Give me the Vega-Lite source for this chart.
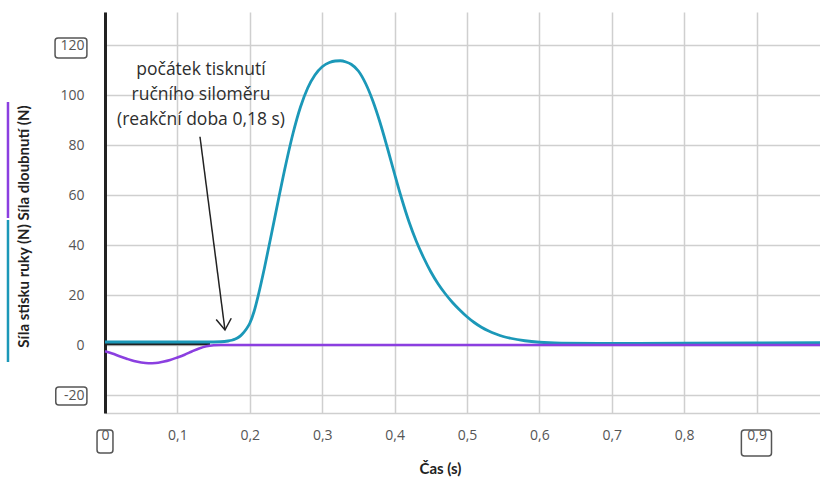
{
  "$schema": "https://vega.github.io/schema/vega-lite/v6.json",
  "width": 715,
  "height": 401,
  "autosize": {"type": "none"},
  "padding": {"left": 105, "top": 12, "right": 0, "bottom": 70},
  "background": "white",
  "config": {"view": {"stroke": null}},
  "datasets": {
    "teal": [
      {"t": 0, "v": 1.2}, {"t": 0.05, "v": 1.2}, {"t": 0.1, "v": 1.2}, {"t": 0.14, "v": 1.2},
      {"t": 0.16, "v": 1.3}, {"t": 0.17, "v": 1.6}, {"t": 0.175, "v": 1.9}, {"t": 0.18, "v": 2.4},
      {"t": 0.185, "v": 3.2}, {"t": 0.19, "v": 4.5}, {"t": 0.195, "v": 6.3}, {"t": 0.2, "v": 8.7},
      {"t": 0.206, "v": 13.5}, {"t": 0.212, "v": 20.2}, {"t": 0.22, "v": 30.5}, {"t": 0.23, "v": 44.5},
      {"t": 0.24, "v": 58.8}, {"t": 0.25, "v": 72.6}, {"t": 0.26, "v": 85}, {"t": 0.27, "v": 95.2},
      {"t": 0.28, "v": 102.8}, {"t": 0.29, "v": 108}, {"t": 0.3, "v": 111.3}, {"t": 0.31, "v": 113},
      {"t": 0.318, "v": 113.6}, {"t": 0.325, "v": 113.7}, {"t": 0.333, "v": 113.2}, {"t": 0.34, "v": 112.3},
      {"t": 0.35, "v": 109.6}, {"t": 0.36, "v": 104.6}, {"t": 0.37, "v": 97.6}, {"t": 0.38, "v": 88.9},
      {"t": 0.39, "v": 78.9}, {"t": 0.4, "v": 68.4}, {"t": 0.41, "v": 58.3}, {"t": 0.42, "v": 49.2},
      {"t": 0.43, "v": 41.5}, {"t": 0.44, "v": 35}, {"t": 0.45, "v": 29.3}, {"t": 0.46, "v": 24.5},
      {"t": 0.47, "v": 20.5}, {"t": 0.48, "v": 17}, {"t": 0.49, "v": 14}, {"t": 0.5, "v": 11.3},
      {"t": 0.51, "v": 9}, {"t": 0.52, "v": 7.1}, {"t": 0.53, "v": 5.6}, {"t": 0.54, "v": 4.4},
      {"t": 0.55, "v": 3.4}, {"t": 0.56, "v": 2.7}, {"t": 0.58, "v": 1.7}, {"t": 0.6, "v": 1.1},
      {"t": 0.63, "v": 0.75}, {"t": 0.7, "v": 0.6}, {"t": 0.8, "v": 0.7}, {"t": 0.9, "v": 0.8}, {"t": 0.99, "v": 0.9}
    ],
    "purple": [
      {"t": 0, "v": -2.5}, {"t": 0.01, "v": -3.4}, {"t": 0.02, "v": -4.5}, {"t": 0.03, "v": -5.5},
      {"t": 0.04, "v": -6.4}, {"t": 0.05, "v": -7}, {"t": 0.06, "v": -7.3}, {"t": 0.07, "v": -7.2},
      {"t": 0.08, "v": -6.7}, {"t": 0.09, "v": -6}, {"t": 0.1, "v": -5}, {"t": 0.11, "v": -3.9},
      {"t": 0.12, "v": -2.6}, {"t": 0.13, "v": -1.4}, {"t": 0.14, "v": -0.5}, {"t": 0.15, "v": -0.1},
      {"t": 0.16, "v": 0}, {"t": 0.3, "v": 0}, {"t": 0.5, "v": 0}, {"t": 0.7, "v": 0}, {"t": 0.9, "v": 0}, {"t": 0.99, "v": 0}
    ],
    "base": [{"t": 0, "v": 0.5}, {"t": 0.145, "v": 0.5}],
    "arrow": [
      {"t": 0.1312, "v": 83.3, "seg": "shaft", "ord": 1},
      {"t": 0.1657, "v": 6, "seg": "shaft", "ord": 2},
      {"t": 0.1536, "v": 10.2, "seg": "head", "ord": 1},
      {"t": 0.1657, "v": 6, "seg": "head", "ord": 2},
      {"t": 0.1744, "v": 10.7, "seg": "head", "ord": 3}
    ],
    "notes": [
      {"t": 0.1326, "v": 110, "label": "počátek tisknutí"},
      {"t": 0.1326, "v": 100, "label": "ručního siloměru"},
      {"t": 0.1326, "v": 90, "label": "(reakční doba 0,18 s)"}
    ],
    "keys": [
      {"t": -0.134, "v": 50, "v2": -6.8, "series": "stisk"},
      {"t": -0.134, "v": 97.2, "v2": 50.8, "series": "dloubnuti"}
    ],
    "boxes": [
      {"t": -0.069, "t2": -0.025, "v": 122.8, "v2": 114.8},
      {"t": -0.068, "t2": -0.025, "v": -16.8, "v2": -24},
      {"t": -0.011, "t2": 0.011, "v": -34, "v2": -43.2},
      {"t": 0.879, "t2": 0.9206, "v": -34, "v2": -44.4}
    ]
  },
  "encoding": {
    "x": {
      "field": "t", "type": "quantitative",
      "scale": {"domain": [0, 0.9876], "nice": false, "zero": false},
      "axis": {
        "values": [0, 0.1, 0.2, 0.3, 0.4, 0.5, 0.6, 0.7, 0.8, 0.9],
        "labelExpr": "datum.value == 0 ? '0' : replace(format(datum.value, '.1f'), '.', ',')",
        "labelFlush": false,
        "grid": true, "gridColor": "#cfcfcf", "gridWidth": 1.5,
        "ticks": false, "domainColor": "#cfcfcf", "domainWidth": 1.5,
        "labelFont": "Open Sans", "labelFontSize": 14, "labelColor": "#555", "labelPadding": 15,
        "title": "Čas (s)", "titleFont": "Lato", "titleFontSize": 15, "titleFontWeight": "bold",
        "titleColor": "#222", "titleX": 335, "titleY": 55, "titleAlign": "center", "titleBaseline": "middle"
      }
    },
    "y": {
      "field": "v", "type": "quantitative",
      "scale": {"domain": [-27.2, 133.2], "nice": false, "zero": false},
      "axis": {
        "values": [-20, 0, 20, 40, 60, 80, 100, 120],
        "labelExpr": "'' + datum.value",
        "grid": true, "gridColor": "#cfcfcf", "gridWidth": 1.5,
        "ticks": false, "domainColor": "#222", "domainWidth": 3,
        "labelFont": "Open Sans", "labelFontSize": 14, "labelColor": "#555", "labelPadding": 21,
        "title": "Síla stisku ruky (N)  Síla dloubnutí (N)", "titleFont": "Lato", "titleFontSize": 15,
        "titleFontWeight": "bold", "titleColor": "#222", "titleAngle": -90,
        "titleX": -82, "titleY": 214, "titleAlign": "center", "titleBaseline": "middle"
      }
    }
  },
  "layer": [
    {
      "data": {"name": "boxes"},
      "mark": {"type": "rect", "clip": false, "fill": null, "fillOpacity": 0, "stroke": "#555", "strokeWidth": 1.5, "cornerRadius": 3},
      "encoding": {"x2": {"field": "t2"}, "y2": {"field": "v2"}}
    },
    {
      "data": {"name": "keys"},
      "mark": {"type": "rule", "clip": false, "strokeWidth": 2.5},
      "encoding": {
        "y2": {"field": "v2"},
        "color": {"field": "series", "type": "nominal", "scale": {"domain": ["stisk", "dloubnuti"], "range": ["#1b98b8", "#8b3fe0"]}, "legend": null}
      }
    },
    {
      "data": {"name": "base"},
      "mark": {"type": "line", "color": "#222", "strokeWidth": 3},
      "encoding": {}
    },
    {
      "data": {"name": "teal"},
      "mark": {"type": "line", "color": "#1b98b8", "strokeWidth": 2.8, "interpolate": "monotone"},
      "encoding": {}
    },
    {
      "data": {"name": "purple"},
      "mark": {"type": "line", "color": "#8b3fe0", "strokeWidth": 2.5, "interpolate": "monotone"},
      "encoding": {}
    },
    {
      "data": {"name": "arrow"},
      "mark": {"type": "line", "color": "#222", "strokeWidth": 1.5},
      "encoding": {"detail": {"field": "seg"}, "order": {"field": "ord", "type": "quantitative"}}
    },
    {
      "data": {"name": "notes"},
      "mark": {"type": "text", "font": "Open Sans", "fontSize": 17.5, "color": "#2e2e2e", "align": "center", "baseline": "middle"},
      "encoding": {"text": {"field": "label"}}
    }
  ]
}
